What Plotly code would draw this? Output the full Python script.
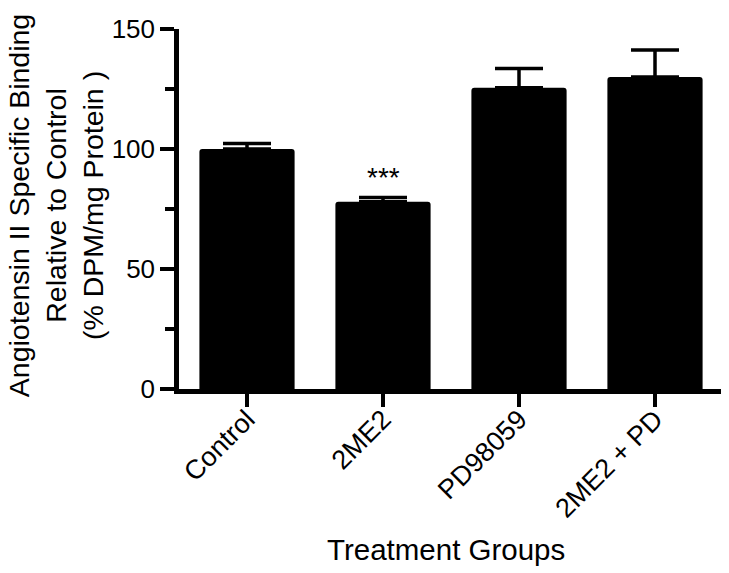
import plotly.graph_objects as go

categories = ["Control", "2ME2", "PD98059", "2ME2 + PD"]
values = [100, 78, 125.5, 130]
errors = [2.3, 1.8, 8, 11.3]
y_ticks = [0, 50, 100, 150]
sig_labels = ["", "***", "", ""]

FONT = "Liberation Sans, Arial, Helvetica, sans-serif"

fig = go.Figure()
fig.add_trace(go.Bar(
    x=categories, y=values,
    marker=dict(color="black", line=dict(width=0)),
    width=0.7,
    error_y=dict(type="data", array=errors, arrayminus=[0]*len(errors),
                 symmetric=False, color="black", thickness=3.5, width=24),
))

for c, v, e, s in zip(categories, values, errors, sig_labels):
    if s:
        fig.add_annotation(x=c, y=v + e, text=s, showarrow=False,
                           yanchor="bottom", yshift=2,
                           font=dict(family=FONT, size=28, color="black"))

fig.add_annotation(
    xref="paper", yref="paper", x=-0.226, y=0.508,
    text="Angiotensin II Specific Binding<br>Relative to Control<br>(% DPM/mg Protein )",
    textangle=-90, showarrow=False, xanchor="center", yanchor="middle",
    align="center", font=dict(family=FONT, size=28.5, color="black"))

fig.add_annotation(
    xref="paper", yref="paper", x=0.4917, y=-0.446,
    text="Treatment Groups", showarrow=False, xanchor="center", yanchor="middle",
    font=dict(family=FONT, size=29.5, color="black"))

fig.update_layout(
    width=721, height=565,
    margin=dict(l=171, r=6, t=16, b=184),
    paper_bgcolor="white", plot_bgcolor="white",
    showlegend=False,
    barcornerradius=3,
    font=dict(family=FONT, color="black"),
)
fig.update_xaxes(
    range=[-0.5, 3.5], showline=True, linewidth=4.5, linecolor="black",
    ticks="outside", ticklen=13, tickwidth=4, tickcolor="black",
    tickangle=-45, tickfont=dict(family=FONT, size=27, color="black"),
    ticklabelstandoff=-14,
    showgrid=False, zeroline=False,
)
fig.update_yaxes(
    range=[0, 150], tickvals=y_ticks, showline=True, linewidth=4.5, linecolor="black",
    ticks="outside", ticklen=14, tickwidth=4, tickcolor="black",
    tickfont=dict(family=FONT, size=26, color="black"),
    minor=dict(tickvals=[25, 75, 125], ticks="outside", ticklen=9, tickwidth=4, tickcolor="black"),
    showgrid=False, zeroline=False,
)

fig.write_html("out.html")
